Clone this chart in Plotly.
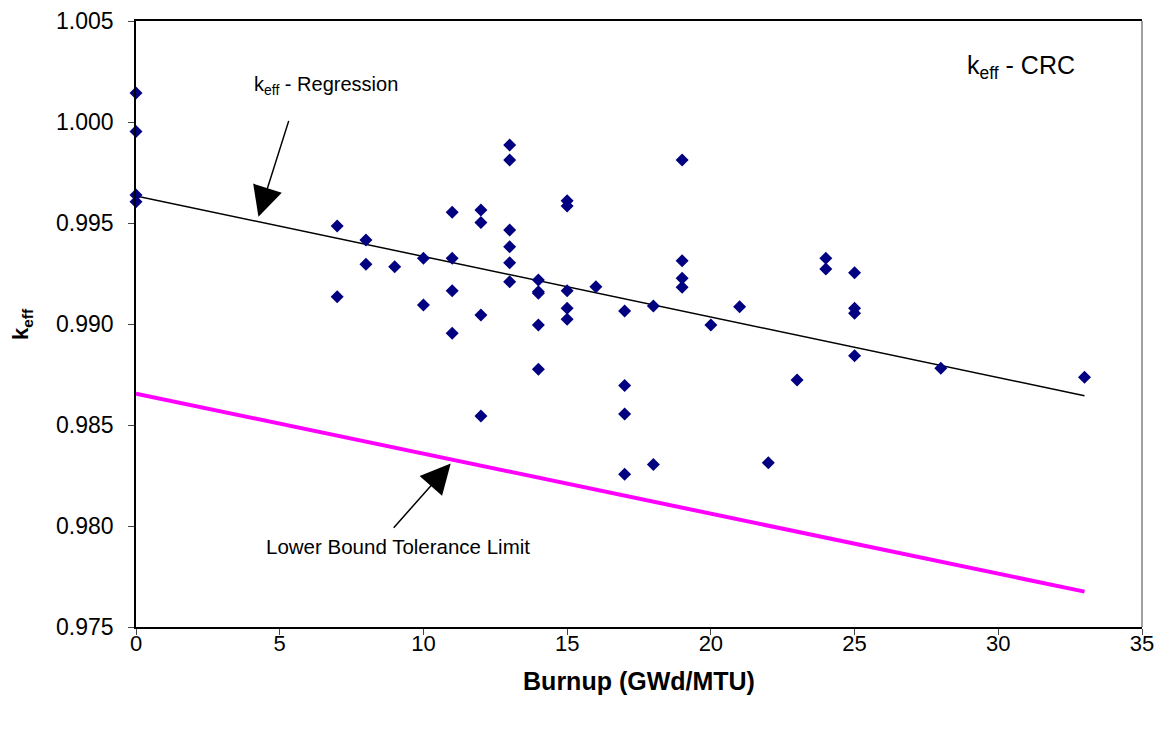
import plotly.graph_objects as go

# burnup (GWd/MTU) and measured keff for the CRC state points
burnup = [0, 0, 0, 0, 7, 7, 8, 8, 9, 10, 10, 11, 11, 11, 11, 12, 12, 12, 12,
          13, 13, 13, 13, 13, 13, 14, 14, 14, 14, 14, 15, 15, 15, 15, 15, 16,
          17, 17, 17, 17, 18, 18, 19, 19, 19, 19, 20, 21, 22, 23, 24, 24,
          25, 25, 25, 25, 28, 33]
keff = [1.00144, 0.99953, 0.99639, 0.99605, 0.99485, 0.99135, 0.99416, 0.99296,
        0.99284, 0.99325, 0.99094, 0.99553, 0.99325, 0.99165, 0.98954, 0.99564,
        0.99503, 0.99045, 0.98545, 0.99886, 0.99812, 0.99465, 0.99383, 0.99303,
        0.99209, 0.99218, 0.99160, 0.99152, 0.98995, 0.98776, 0.99610, 0.99584,
        0.99165, 0.99078, 0.99023, 0.99185, 0.99064, 0.98695, 0.98554, 0.98256,
        0.99089, 0.98305, 0.99812, 0.99313, 0.99226, 0.99182, 0.98995, 0.99086,
        0.98313, 0.98723, 0.99325, 0.99272, 0.99254, 0.99078, 0.99053, 0.98843,
        0.98781, 0.98736]

# fitted lines (end points)
line_x = [0, 33]
regression_y = [0.99634, 0.98645]
lower_bound_y = [0.98655, 0.97675]

x_ticks = [0, 5, 10, 15, 20, 25, 30, 35]
y_ticks = [0.975, 0.980, 0.985, 0.990, 0.995, 1.000, 1.005]

FONT = "Liberation Sans, Arial, sans-serif"

fig = go.Figure()
fig.add_trace(go.Scatter(
    x=line_x, y=lower_bound_y, mode="lines",
    line=dict(color="#FF00FF", width=4), showlegend=False,
))
fig.add_trace(go.Scatter(
    x=line_x, y=regression_y, mode="lines",
    line=dict(color="black", width=1.5), showlegend=False,
))
fig.add_trace(go.Scatter(
    x=burnup, y=keff, mode="markers",
    marker=dict(symbol="diamond", size=10, color="#000080"),
    cliponaxis=False, showlegend=False,
))

annotations = [
    dict(x=6.61, y=1.00183, text="k<sub>eff</sub> - Regression", showarrow=False,
         font=dict(size=20)),
    dict(x=4.26, y=0.99531, ax=5.33, ay=1.00013, axref="x", ayref="y", text="",
         showarrow=True, arrowhead=2, arrowsize=4, arrowwidth=1.5,
         arrowcolor="black"),
    dict(x=9.1, y=0.97901, text="Lower Bound Tolerance Limit", showarrow=False,
         font=dict(size=20.5)),
    dict(x=10.95, y=0.98310, ax=8.92, ay=0.97984, axref="x", ayref="y", text="",
         showarrow=True, arrowhead=2, arrowsize=4, arrowwidth=1.5,
         arrowcolor="black"),
    dict(x=30.78, y=1.00274, text="k<sub>eff</sub> - CRC", showarrow=False,
         font=dict(size=25)),
    # y axis title, placed in pixels left of the axis
    dict(x=-114 / 1006, y=0.990, xref="paper", yref="y", xanchor="center",
         text="<b>k<sub>eff</sub></b>", showarrow=False, textangle=-90,
         borderpad=0, font=dict(size=22)),
]

# the page body adds an 8px offset, so the figure is 8px smaller
fig.update_layout(
    width=1156,
    height=722,
    paper_bgcolor="white",
    plot_bgcolor="white",
    font=dict(family=FONT, color="black", size=18),
    margin=dict(l=128, r=22, t=13, b=103),
    annotations=annotations,
    xaxis=dict(
        range=[0, 35], tickvals=x_ticks, ticks="outside", ticklen=6,
        showline=True, linecolor="black", linewidth=1.5, mirror=True,
        showgrid=False, zeroline=False, tickfont=dict(size=22),
        ticklabelstandoff=-10, automargin=False,
        title=dict(text="<b>Burnup (GWd/MTU)</b>", font=dict(size=25),
                   standoff=17),
    ),
    yaxis=dict(
        range=[0.975, 1.005], tickvals=y_ticks, tickformat=".3f",
        ticks="outside", ticklen=6, showline=True, linecolor="black",
        linewidth=1.5, showgrid=False, zeroline=False, tickfont=dict(size=23),
        ticklabelstandoff=10, automargin=False,
    ),
    shapes=[dict(type="line", xref="x domain", yref="y domain", x0=1, x1=1,
                 y0=0, y1=1, line=dict(color="#808080", width=1.5))],
)

fig.write_html("out.html")
